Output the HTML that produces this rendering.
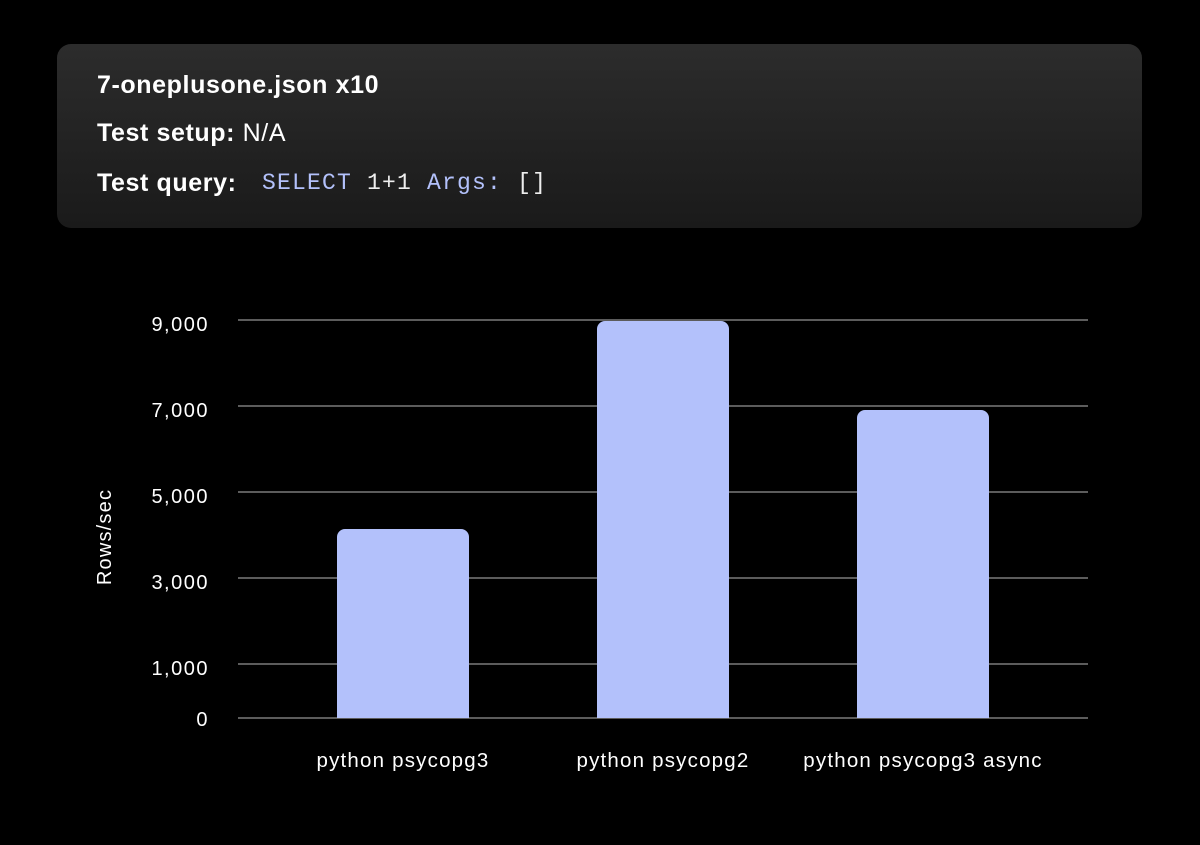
<!DOCTYPE html>
<html><head><style>
body{margin:0;background:#000;width:1200px;height:845px;overflow:hidden;font-family:"Liberation Sans",sans-serif;color:#fff;}
.box{position:absolute;left:57px;top:44px;width:1085px;height:184px;border-radius:14px;background:linear-gradient(180deg,#2c2c2c,#1a1a1a);}
.t{position:absolute;left:40px;font-size:25px;white-space:nowrap;letter-spacing:0.6px}
.m{font-family:"Liberation Mono",monospace;font-size:23px;color:#b3c1fb;letter-spacing:1.2px;position:absolute;left:165px;top:1px}
.w{color:#eee}
</style></head><body>
<div class="box">
<div class="t" style="top:27px;font-weight:bold">7-oneplusone.json x10</div>
<div class="t" style="top:75px"><b>Test setup:</b> N/A</div>
<div class="t" style="top:125px"><b>Test query:</b><span class="m">SELECT <span class="w">1+1</span> Args: <span class="w">[]</span></span></div>
</div>
<svg width="1200" height="845" style="position:absolute;left:0;top:0" font-family="Liberation Sans, sans-serif">
<g stroke="#7a7a7a" stroke-width="1.5">
<line x1="238" x2="1088" y1="320" y2="320"/><line x1="238" x2="1088" y1="406" y2="406"/>
<line x1="238" x2="1088" y1="492" y2="492"/><line x1="238" x2="1088" y1="578" y2="578"/>
<line x1="238" x2="1088" y1="664" y2="664"/><line x1="238" x2="1088" y1="718" y2="718"/>
</g>
<g fill="#fff" font-size="20" letter-spacing="1.5" text-anchor="end">
<text x="209" y="331">9,000</text><text x="209" y="417">7,000</text><text x="209" y="503">5,000</text>
<text x="209" y="589">3,000</text><text x="209" y="675">1,000</text><text x="209" y="726">0</text>
</g>
<text transform="translate(111,537) rotate(-90)" fill="#fff" font-size="20" letter-spacing="1.2" text-anchor="middle">Rows/sec</text>
<g fill="#b3c1fb">
<path d="M337,718V537a8,8 0 0 1 8,-8H461a8,8 0 0 1 8,8V718Z"/>
<path d="M597,718V329a8,8 0 0 1 8,-8H721a8,8 0 0 1 8,8V718Z"/>
<path d="M857,718V418a8,8 0 0 1 8,-8H981a8,8 0 0 1 8,8V718Z"/>
</g>
<g fill="#fff" font-size="20.5" letter-spacing="1.2" text-anchor="middle">
<text x="403" y="767">python psycopg3</text><text x="663" y="767">python psycopg2</text><text x="923" y="767">python psycopg3 async</text>
</g>
</svg>
</body></html>
